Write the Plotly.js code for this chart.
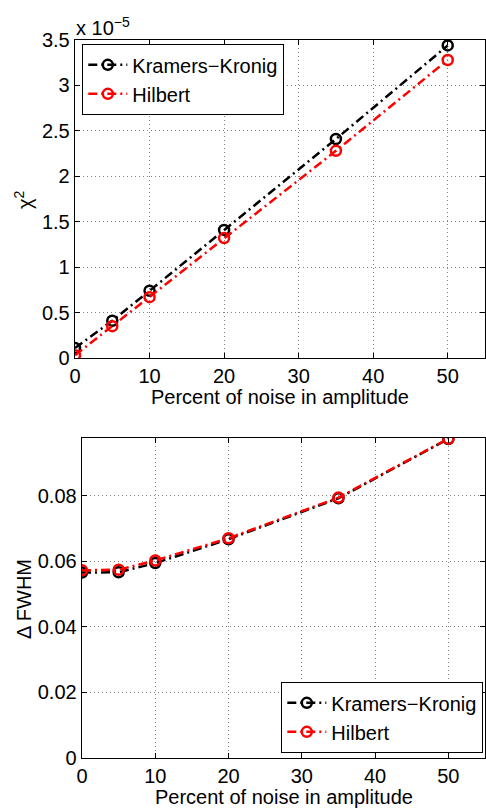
<!DOCTYPE html>
<html>
<head>
<meta charset="utf-8">
<script src="https://cdn.plot.ly/plotly-3.0.1.min.js"></script>
<style>html,body{margin:0;padding:0;background:#fff;}#chart{width:486px;height:811px;}</style>
</head>
<body>
<div id="chart"></div>
<script>
// Data
const noise = [0, 5, 10, 20, 35, 50];
// chi^2 values in units of 1e-5
const chi2KK = [0.11, 0.41, 0.74, 1.41, 2.41, 3.44];
const chi2Hilbert = [0.03, 0.35, 0.67, 1.32, 2.28, 3.28];
const fwhmKK = [0.0566, 0.0567, 0.0595, 0.0668, 0.0793, 0.0974];
const fwhmHilbert = [0.0573, 0.0575, 0.0603, 0.0671, 0.0795, 0.0975];
const seriesNames = ['Kramers\u2212Kronig', 'Hilbert'];
const xTicks = [0, 10, 20, 30, 40, 50];
const chiTickVals = [0, 0.5, 1, 1.5, 2, 2.5, 3, 3.5];
const chiTickText = ['0', '0.5', '1', '1.5', '2', '2.5', '3', '3.5'];
const fwhmTickVals = [0, 0.02, 0.04, 0.06, 0.08];
const fwhmTickText = ['0', '0.02', '0.04', '0.06', '0.08'];

const W = 486, H = 811;
const FONT = 'Liberation Sans, Arial, Helvetica, sans-serif';
const dash = '9px,4px,2px,4px';

function tr(x, y, name, color, xa, ya, leg) {
  return {
    x: x, y: y, name: name, type: 'scatter', mode: 'lines+markers',
    xaxis: xa, yaxis: ya, legend: leg,
    line: {color: color, width: 2.5, dash: dash},
    marker: {symbol: 'circle-open', size: 10, color: color, line: {color: color, width: 2.5}}
  };
}

const data = [
  tr(noise, chi2KK, seriesNames[0], '#000000', 'x', 'y', 'legend'),
  tr(noise, chi2Hilbert, seriesNames[1], '#ff0000', 'x', 'y', 'legend'),
  tr(noise, fwhmKK, seriesNames[0], '#000000', 'x2', 'y2', 'legend2'),
  tr(noise, fwhmHilbert, seriesNames[1], '#ff0000', 'x2', 'y2', 'legend2')
];

function ax(extra) {
  return Object.assign({
    showline: true, linecolor: '#000', linewidth: 1.3, mirror: 'ticks',
    ticks: 'inside', ticklen: 5, tickcolor: '#000', tickwidth: 1,
    showgrid: true, gridcolor: '#808080', gridwidth: 1, griddash: '1px,3px',
    zeroline: false, tickfont: {family: FONT, size: 20, color: '#000'},
    tickmode: 'array', automargin: false, fixedrange: true
  }, extra);
}

const legendStyle = {
  bgcolor: '#fff', bordercolor: '#000', borderwidth: 1.3,
  font: {family: FONT, size: 20, color: '#000'},
  xanchor: 'left', tracegroupgap: 0, itemwidth: 39
};

const layout = {
  width: W, height: H,
  margin: {l: 0, r: 0, t: 0, b: 0},
  paper_bgcolor: '#fff', plot_bgcolor: '#fff',
  font: {family: FONT, size: 20, color: '#000'},
  showlegend: true,
  xaxis: ax({domain: [75 / W, 485 / W], range: [0, 55], tickvals: xTicks, ticktext: xTicks.map(String), anchor: 'y'}),
  yaxis: ax({domain: [(H - 358) / H, (H - 40) / H], range: [0, 3.5], tickvals: chiTickVals, ticktext: chiTickText, anchor: 'x'}),
  xaxis2: ax({domain: [82 / W, 485 / W], range: [0, 55], tickvals: xTicks, ticktext: xTicks.map(String), anchor: 'y2'}),
  yaxis2: ax({domain: [(H - 758) / H, (H - 438) / H], range: [0, 0.0977], tickvals: fwhmTickVals, ticktext: fwhmTickText, anchor: 'x2'}),
  legend: Object.assign({x: 82 / W, y: 1 - 44 / H, yanchor: 'top'}, legendStyle),
  legend2: Object.assign({x: 281 / W, y: 1 - 753 / H, yanchor: 'bottom'}, legendStyle),
  annotations: [
    {text: 'x 10<sup>\u22125</sup>', xref: 'paper', yref: 'paper', x: 74 / W, y: 1 - 41 / H,
     xanchor: 'left', yanchor: 'bottom', showarrow: false, font: {family: FONT, size: 20, color: '#000'}},
    {text: '\u03c7<sup>2</sup>', xref: 'paper', yref: 'paper', x: 24 / W, y: 1 - 200 / H,
     xanchor: 'center', yanchor: 'middle', textangle: -90, showarrow: false, font: {family: FONT, size: 20, color: '#000'}},
    {text: 'Percent of noise in amplitude', xref: 'paper', yref: 'paper', x: 280 / W, y: 1 - 397 / H,
     xanchor: 'center', yanchor: 'middle', showarrow: false, font: {family: FONT, size: 20, color: '#000'}},
    {text: '\u0394 FWHM', xref: 'paper', yref: 'paper', x: 24 / W, y: 1 - 599 / H,
     xanchor: 'center', yanchor: 'middle', textangle: -90, showarrow: false, font: {family: FONT, size: 20, color: '#000'}},
    {text: 'Percent of noise in amplitude', xref: 'paper', yref: 'paper', x: 284 / W, y: 1 - 797 / H,
     xanchor: 'center', yanchor: 'middle', showarrow: false, font: {family: FONT, size: 20, color: '#000'}}
  ]
};

Plotly.newPlot('chart', data, layout, {staticPlot: true, displayModeBar: false});
</script>
</body>
</html>
